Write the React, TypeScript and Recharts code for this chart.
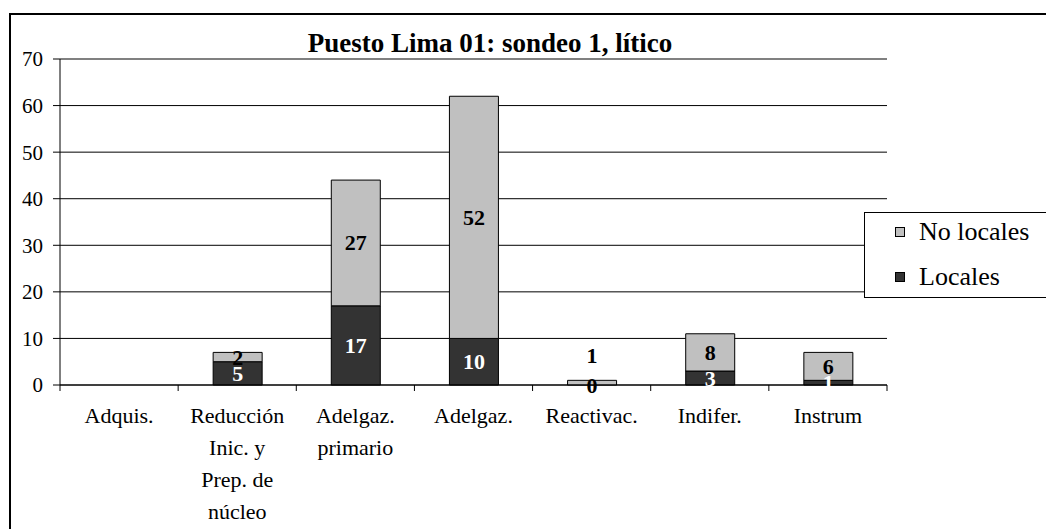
import React from 'react';
import { BarChart, Bar, XAxis, YAxis, CartesianGrid, ReferenceLine, LabelList, Legend } from 'recharts';

const categories = [
  'Adquis.',
  'Reducción Inic. y Prep. de núcleo',
  'Adelgaz. primario',
  'Adelgaz.',
  'Reactivac.',
  'Indifer.',
  'Instrum',
];
const tickLabelLines = [
  ['Adquis.'],
  ['Reducción', 'Inic. y', 'Prep. de', 'núcleo'],
  ['Adelgaz.', 'primario'],
  ['Adelgaz.'],
  ['Reactivac.'],
  ['Indifer.'],
  ['Instrum'],
];
const locales: (number | null)[] = [null, 5, 17, 10, 0, 3, 1];
const noLocales: (number | null)[] = [null, 2, 27, 52, 1, 8, 6];
const yTicks = [0, 10, 20, 30, 40, 50, 60, 70];
const seriesNames = { noLocales: 'No locales', locales: 'Locales' };
const title = 'Puesto Lima 01: sondeo 1, lítico';

const data = categories.map((name, i) => ({
  name,
  locales: locales[i],
  noLocales: noLocales[i],
}));

const FONT = "'Liberation Serif', 'Times New Roman', Times, serif";
const DARK = '#333333';
const LIGHT = '#c0c0c0';

const CatTick = (props: any) => {
  const { x, y, payload, width, visibleTicksCount } = props;
  const idx = categories.indexOf(payload.value);
  const lines = tickLabelLines[idx] || [payload.value];
  const band = Number(width) / Number(visibleTicksCount || categories.length);
  const left = x - band / 2;
  const right = x + band / 2;
  return (
    <g>
      <line x1={left} y1={y} x2={left} y2={y + 6} stroke="#000" strokeWidth={1} />
      {idx === categories.length - 1 && (
        <line x1={right} y1={y} x2={right} y2={y + 6} stroke="#000" strokeWidth={1} />
      )}
      <text x={x} y={y} textAnchor="middle" style={{ fontFamily: FONT, fontSize: 22 }} fill="#000">
        {lines.map((l, i) => (
          <tspan key={i} x={x} dy={i === 0 ? 38 : 32}>
            {l}
          </tspan>
        ))}
      </text>
    </g>
  );
};

const labelText = (cx: number, cy: number, value: any, fill: string) => (
  <text
    x={cx}
    y={cy}
    textAnchor="middle"
    dominantBaseline="central"
    style={{ fontFamily: FONT, fontWeight: 'bold', fontSize: 22 }}
    fill={fill}
  >
    {value}
  </text>
);

const localesLabel = (props: any) => {
  const { x, y, width, height, value } = props;
  if (value === null || value === undefined || Number(value) === 0) return null;
  return labelText(Number(x) + Number(width) / 2, Number(y) + Number(height) / 2, value, '#fff');
};

// LabelList on the top series reads the category name, then looks values up in the arrays
const noLocalesLabel = (props: any) => {
  const { x, y, width, height, value } = props;
  const idx = categories.indexOf(value);
  if (idx < 0) return null;
  const top = noLocales[idx];
  if (top === null || top === undefined) return null;
  const cx = Number(x) + Number(width) / 2;
  let cy = Number(y) + Number(height) / 2;
  if (Math.abs(Number(height)) < 8) cy -= 27;
  const base = locales[idx];
  return (
    <g>
      {labelText(cx, cy, top, '#000')}
      {base === 0 && labelText(cx, Number(y) + Number(height), base, '#000')}
    </g>
  );
};

const renderLegend = () => {
  const items = [
    { name: seriesNames.noLocales, color: LIGHT },
    { name: seriesNames.locales, color: DARK },
  ];
  return (
    <div
      style={{
        position: 'relative',
        width: 200,
        height: 86,
        border: '1px solid #000',
        background: '#fff',
        boxSizing: 'border-box',
        fontFamily: FONT,
        fontSize: 26,
        color: '#000',
      }}
    >
      {items.map((it, i) => (
        <div
          key={it.name}
          style={{
            position: 'absolute',
            left: 30,
            top: i === 0 ? 2 : 47,
            height: 34,
            display: 'flex',
            alignItems: 'center',
            whiteSpace: 'nowrap',
          }}
        >
          <span
            style={{
              display: 'inline-block',
              width: 8,
              height: 8,
              border: '1px solid #000',
              background: it.color,
              marginRight: 14,
              flex: 'none',
            }}
          />
          <span>{it.name}</span>
        </div>
      ))}
    </div>
  );
};

export default function App() {
  return (
    <div
      style={{
        position: 'absolute',
        left: 0,
        top: 0,
        width: 1046,
        height: 529,
        overflow: 'hidden',
        background: '#fff',
      }}
    >
      <div
        style={{
          position: 'absolute',
          left: 9,
          top: 13,
          width: 1200,
          height: 700,
          border: '2px solid #000',
        }}
      />
      <svg style={{ position: 'absolute', left: 0, top: 0 }} width={1046} height={60}>
        <text
          x={490}
          y={52}
          textAnchor="middle"
          style={{ fontFamily: FONT, fontWeight: 'bold', fontSize: 27 }}
          fill="#000"
        >
          {title}
        </text>
      </svg>
      <div style={{ position: 'absolute', left: 0, top: 0 }}>
        <BarChart
          width={1046}
          height={529}
          data={data}
          margin={{ top: 59, right: 159, bottom: 0, left: 0 }}
          barSize={49}
        >
          <CartesianGrid vertical={false} stroke="#000" strokeWidth={1} />
          <XAxis
            dataKey="name"
            height={144}
            tick={<CatTick />}
            tickLine={false}
            axisLine={{ stroke: '#000' }}
            tickSize={0}
            tickMargin={0}
            interval={0}
          />
          <XAxis xAxisId="num" type="number" domain={[0, 7]} hide allowDataOverflow />
          <YAxis
            domain={[0, 70]}
            ticks={yTicks}
            width={60}
            tickSize={7}
            tickMargin={10}
            interval={0}
            axisLine={{ stroke: '#000' }}
            tickLine={{ stroke: '#000' }}
            tick={{ fontSize: 21, fill: '#000', style: { fontFamily: FONT } }}
          />
          <ReferenceLine y={70} stroke="#808080" strokeWidth={2} />
          <ReferenceLine xAxisId="num" x={7} stroke="#a0a0a0" strokeWidth={2} />
          <Bar
            dataKey="locales"
            name={seriesNames.locales}
            stackId="s"
            fill={DARK}
            stroke="#000"
            strokeWidth={1}
            isAnimationActive={false}
          >
            <LabelList dataKey="locales" content={localesLabel} />
          </Bar>
          <Bar
            dataKey="noLocales"
            name={seriesNames.noLocales}
            stackId="s"
            fill={LIGHT}
            stroke="#000"
            strokeWidth={1}
            isAnimationActive={false}
          >
            <LabelList dataKey="name" content={noLocalesLabel} />
          </Bar>
          <Legend
            layout="horizontal"
            align="center"
            verticalAlign="middle"
            content={renderLegend}
            wrapperStyle={{ position: 'absolute', left: 864, top: 212, width: 200, height: 86 }}
          />
        </BarChart>
      </div>
    </div>
  );
}
